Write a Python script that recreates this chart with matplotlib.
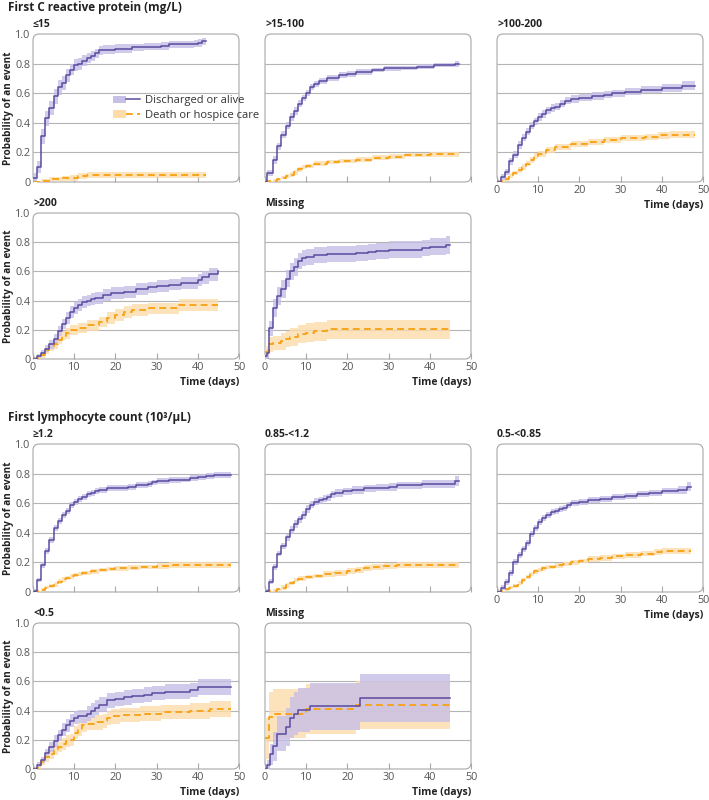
#!/usr/bin/env python3

import matplotlib
matplotlib.use("Agg")
import matplotlib.pyplot as plt
import numpy as np
from matplotlib.patches import FancyBboxPatch, Patch
from matplotlib.lines import Line2D
from matplotlib.legend_handler import HandlerTuple

plt.rcParams['font.family'] = ['Open Sans', 'DejaVu Sans']

# each series: (day, cumulative probability, half width of 95% CI)
# --- first C reactive protein ---
crp_le15_dis = [(0, 0.03, 0.03), (1, 0.10, 0.04), (2, 0.31, 0.05), (3, 0.43, 0.05), (4, 0.50, 0.05),
                (5, 0.58, 0.05), (6, 0.64, 0.05), (7, 0.67, 0.045), (8, 0.72, 0.045), (9, 0.76, 0.04),
                (10, 0.79, 0.04), (11, 0.80, 0.04), (12, 0.82, 0.035), (13, 0.84, 0.035), (14, 0.85, 0.035),
                (15, 0.87, 0.03), (16, 0.89, 0.03), (17, 0.895, 0.03), (20, 0.90, 0.03), (24, 0.91, 0.025),
                (27, 0.915, 0.025), (31, 0.92, 0.025), (33, 0.93, 0.025), (39, 0.935, 0.025),
                (40, 0.94, 0.025), (41, 0.95, 0.025), (42, 0.95, 0.025)]
crp_le15_die = [(0, 0.0, 0.005), (2, 0.01, 0.01), (4, 0.02, 0.015), (7, 0.025, 0.015), (9, 0.03, 0.02),
                (11, 0.04, 0.02), (13, 0.045, 0.02), (42, 0.045, 0.02)]

crp_15_100_dis = [(0, 0.0, 0.005), (0.6, 0.06, 0.02), (2, 0.15, 0.025), (3, 0.24, 0.025), (4, 0.32, 0.025),
                  (5, 0.38, 0.025), (6, 0.44, 0.025), (7, 0.48, 0.025), (8, 0.53, 0.025), (9, 0.57, 0.02),
                  (10, 0.60, 0.02), (11, 0.64, 0.02), (12, 0.66, 0.02), (13, 0.68, 0.02), (15, 0.70, 0.02),
                  (18, 0.72, 0.02), (20, 0.73, 0.02), (22, 0.745, 0.02), (26, 0.755, 0.015),
                  (29, 0.767, 0.015), (33, 0.77, 0.015), (37, 0.78, 0.015), (41, 0.79, 0.015),
                  (46, 0.796, 0.02), (47, 0.796, 0.02)]
crp_15_100_die = [(0, 0.0, 0.005), (1, 0.005, 0.005), (2, 0.01, 0.01), (3, 0.02, 0.01), (4, 0.03, 0.01),
                  (5, 0.04, 0.015), (6, 0.05, 0.015), (7, 0.065, 0.015), (8, 0.085, 0.015),
                  (9, 0.10, 0.015), (10, 0.11, 0.015), (12, 0.125, 0.015), (15, 0.135, 0.015),
                  (18, 0.143, 0.015), (22, 0.152, 0.015), (26, 0.165, 0.015), (30, 0.172, 0.015),
                  (34, 0.181, 0.015), (40, 0.186, 0.015), (47, 0.186, 0.015)]

crp_100_200_dis = [(0, 0.0, 0.01), (1, 0.034, 0.02), (2, 0.07, 0.02), (3, 0.14, 0.025), (4, 0.185, 0.025),
                   (5, 0.25, 0.025), (6, 0.30, 0.025), (7, 0.34, 0.025), (8, 0.38, 0.025), (9, 0.41, 0.025),
                   (10, 0.44, 0.025), (11, 0.46, 0.025), (12, 0.485, 0.025), (13, 0.50, 0.025),
                   (14, 0.51, 0.025), (15.4, 0.53, 0.025), (16.6, 0.55, 0.025), (18, 0.56, 0.025),
                   (20, 0.57, 0.025), (23, 0.58, 0.025), (26, 0.59, 0.025), (28, 0.60, 0.025),
                   (31, 0.61, 0.025), (35, 0.625, 0.025), (40, 0.635, 0.025), (45, 0.65, 0.03),
                   (48, 0.65, 0.03)]
crp_100_200_die = [(0, 0.0, 0.005), (1, 0.005, 0.01), (2, 0.02, 0.015), (3, 0.045, 0.015), (4, 0.06, 0.015),
                   (5, 0.08, 0.02), (6, 0.10, 0.02), (7, 0.125, 0.02), (8, 0.15, 0.02), (9, 0.175, 0.02),
                   (10, 0.19, 0.02), (12, 0.215, 0.02), (14, 0.235, 0.02), (18, 0.255, 0.02),
                   (22, 0.27, 0.02), (26, 0.285, 0.02), (30, 0.30, 0.02), (36, 0.305, 0.02),
                   (39, 0.315, 0.025), (42, 0.32, 0.025), (48, 0.32, 0.025)]

crp_gt200_dis = [(0, 0.0, 0.01), (1, 0.02, 0.015), (2, 0.04, 0.02), (3, 0.07, 0.025), (4, 0.10, 0.03),
                 (5, 0.14, 0.03), (6, 0.19, 0.035), (7, 0.24, 0.035), (8, 0.28, 0.04), (9, 0.32, 0.04),
                 (10, 0.35, 0.04), (11, 0.37, 0.04), (12, 0.39, 0.04), (13, 0.40, 0.04), (14, 0.41, 0.04),
                 (15, 0.42, 0.04), (17, 0.44, 0.04), (19, 0.45, 0.04), (22, 0.46, 0.04), (25, 0.48, 0.04),
                 (28, 0.49, 0.04), (30, 0.50, 0.04), (33, 0.51, 0.04), (36, 0.52, 0.04), (40, 0.54, 0.04),
                 (41, 0.56, 0.045), (42.7, 0.58, 0.045), (44.9, 0.60, 0.045), (45, 0.60, 0.045)]
crp_gt200_die = [(0, 0.0, 0.005), (1, 0.01, 0.01), (2, 0.03, 0.02), (3, 0.06, 0.025), (4, 0.08, 0.025),
                 (5, 0.10, 0.03), (6, 0.13, 0.03), (7, 0.16, 0.03), (8, 0.175, 0.035), (9, 0.20, 0.035),
                 (11, 0.21, 0.035), (13, 0.23, 0.035), (16, 0.255, 0.035), (18, 0.28, 0.04),
                 (20, 0.30, 0.04), (22, 0.32, 0.04), (24, 0.335, 0.04), (28, 0.346, 0.04),
                 (35.4, 0.37, 0.04), (45, 0.37, 0.04)]

crp_miss_dis = [(0, 0.02, 0.02), (0.5, 0.04, 0.03), (1, 0.21, 0.05), (2, 0.35, 0.06), (3, 0.43, 0.06),
                (4, 0.48, 0.06), (5, 0.55, 0.06), (6, 0.60, 0.06), (7, 0.63, 0.06), (8, 0.67, 0.055),
                (9, 0.69, 0.055), (10, 0.70, 0.055), (12, 0.71, 0.055), (15, 0.72, 0.055),
                (22, 0.725, 0.055), (25, 0.73, 0.055), (27, 0.74, 0.055), (30, 0.75, 0.055),
                (38, 0.76, 0.055), (40, 0.77, 0.06), (44, 0.78, 0.06), (45, 0.78, 0.06)]
crp_miss_die = [(0, 0.05, 0.04), (1, 0.10, 0.05), (2, 0.11, 0.05), (4, 0.12, 0.055), (5, 0.14, 0.055),
                (6, 0.15, 0.06), (8, 0.17, 0.06), (10, 0.18, 0.065), (12, 0.19, 0.065), (15, 0.205, 0.065),
                (45, 0.205, 0.065)]

# --- first lymphocyte count ---
lym_ge12_dis = [(0, 0.0, 0.005), (0.5, 0.01, 0.01), (1, 0.08, 0.015), (2, 0.18, 0.02), (3, 0.28, 0.02),
                (4, 0.35, 0.02), (5, 0.43, 0.02), (6, 0.48, 0.02), (7, 0.52, 0.02), (8, 0.55, 0.02),
                (9, 0.59, 0.02), (10, 0.61, 0.02), (11, 0.63, 0.02), (12, 0.645, 0.02), (13, 0.66, 0.02),
                (14, 0.67, 0.02), (15, 0.68, 0.02), (16, 0.69, 0.02), (18, 0.70, 0.02), (21, 0.705, 0.02),
                (23, 0.71, 0.02), (25, 0.72, 0.02), (28, 0.73, 0.02), (29, 0.74, 0.02), (30, 0.75, 0.02),
                (33, 0.755, 0.02), (36, 0.76, 0.02), (38, 0.77, 0.02), (40, 0.78, 0.02),
                (42, 0.785, 0.02), (44, 0.79, 0.02), (48, 0.79, 0.02)]
lym_ge12_die = [(0, 0.0, 0.005), (1, 0.005, 0.005), (2, 0.015, 0.01), (3, 0.03, 0.01), (4, 0.04, 0.015),
                (5, 0.05, 0.015), (6, 0.07, 0.015), (7, 0.085, 0.015), (8, 0.095, 0.015),
                (9, 0.105, 0.015), (10, 0.115, 0.015), (11, 0.12, 0.015), (12, 0.13, 0.015),
                (14, 0.14, 0.015), (16, 0.15, 0.015), (18, 0.155, 0.015), (20, 0.16, 0.015),
                (23, 0.165, 0.015), (26, 0.17, 0.015), (30, 0.175, 0.02), (33, 0.18, 0.02),
                (36, 0.185, 0.02), (48, 0.185, 0.02)]

lym_085_12_dis = [(0, 0.0, 0.005), (0.5, 0.01, 0.01), (1, 0.07, 0.015), (2, 0.17, 0.02), (3, 0.26, 0.02),
                  (4, 0.31, 0.02), (5, 0.37, 0.025), (6, 0.42, 0.025), (7, 0.46, 0.025), (8, 0.49, 0.025),
                  (9, 0.52, 0.025), (10, 0.56, 0.025), (11, 0.59, 0.025), (12, 0.61, 0.025),
                  (13, 0.62, 0.025), (14, 0.63, 0.025), (15, 0.64, 0.025), (16, 0.66, 0.025),
                  (17, 0.67, 0.025), (19, 0.68, 0.025), (21, 0.69, 0.025), (24, 0.70, 0.025),
                  (27, 0.705, 0.025), (30, 0.71, 0.025), (32, 0.72, 0.025), (38, 0.73, 0.025),
                  (46, 0.75, 0.035), (47, 0.75, 0.035)]
lym_085_12_die = [(0, 0.0, 0.005), (1, 0.005, 0.005), (2, 0.01, 0.01), (3, 0.02, 0.01), (4, 0.03, 0.015),
                  (5, 0.045, 0.015), (6, 0.06, 0.015), (7, 0.08, 0.015), (8, 0.09, 0.015),
                  (10, 0.10, 0.015), (12, 0.11, 0.015), (14, 0.12, 0.02), (17, 0.13, 0.02),
                  (20, 0.14, 0.02), (22, 0.15, 0.02), (24, 0.16, 0.02), (26, 0.17, 0.02),
                  (29, 0.175, 0.02), (32, 0.18, 0.02), (47, 0.18, 0.02)]

lym_05_085_dis = [(0, 0.0, 0.005), (1, 0.03, 0.015), (2, 0.07, 0.02), (3, 0.13, 0.02), (4, 0.20, 0.02),
                  (5, 0.25, 0.02), (6, 0.29, 0.02), (7, 0.33, 0.02), (8, 0.39, 0.02), (9, 0.43, 0.02),
                  (10, 0.47, 0.02), (11, 0.50, 0.02), (12, 0.52, 0.02), (13, 0.54, 0.02), (14, 0.55, 0.02),
                  (15, 0.56, 0.02), (16, 0.57, 0.02), (17, 0.59, 0.02), (18, 0.60, 0.02), (20, 0.61, 0.02),
                  (22, 0.62, 0.02), (25, 0.63, 0.02), (28, 0.64, 0.02), (31, 0.65, 0.02),
                  (34, 0.66, 0.02), (37, 0.67, 0.02), (40, 0.68, 0.02), (44, 0.69, 0.025),
                  (46, 0.71, 0.03), (47, 0.71, 0.03)]
lym_05_085_die = [(0, 0.0, 0.005), (1, 0.005, 0.005), (2, 0.02, 0.01), (3, 0.03, 0.01), (4, 0.04, 0.015),
                  (5, 0.06, 0.015), (6, 0.08, 0.015), (7, 0.10, 0.015), (8, 0.12, 0.015), (9, 0.14, 0.015),
                  (10, 0.15, 0.015), (11, 0.16, 0.015), (12, 0.17, 0.015), (14, 0.18, 0.015),
                  (16, 0.19, 0.015), (18, 0.20, 0.015), (20, 0.21, 0.015), (22, 0.22, 0.02),
                  (25, 0.23, 0.02), (28, 0.24, 0.02), (31, 0.25, 0.02), (35, 0.26, 0.02),
                  (38, 0.27, 0.02), (40, 0.28, 0.02), (47, 0.28, 0.02)]

lym_lt05_dis = [(0, 0.0, 0.005), (1, 0.03, 0.015), (2, 0.06, 0.02), (3, 0.11, 0.03), (4, 0.15, 0.035),
                (5, 0.19, 0.04), (6, 0.23, 0.04), (7, 0.27, 0.045), (8, 0.30, 0.045), (9, 0.33, 0.045),
                (10, 0.35, 0.045), (11, 0.36, 0.045), (13, 0.38, 0.05), (14, 0.40, 0.05), (15, 0.42, 0.05),
                (16, 0.44, 0.05), (18, 0.47, 0.05), (20, 0.48, 0.05), (22, 0.49, 0.05), (24, 0.50, 0.05),
                (27, 0.51, 0.05), (29, 0.52, 0.05), (32, 0.53, 0.05), (38, 0.54, 0.05),
                (40, 0.56, 0.055), (48, 0.56, 0.055)]
lym_lt05_die = [(0, 0.0, 0.005), (1, 0.01, 0.01), (2, 0.05, 0.02), (3, 0.08, 0.03), (4, 0.10, 0.03),
                (5, 0.13, 0.035), (6, 0.15, 0.035), (7, 0.17, 0.04), (8, 0.19, 0.04), (9, 0.20, 0.04),
                (10, 0.25, 0.045), (11, 0.27, 0.045), (12, 0.30, 0.045), (13, 0.31, 0.045),
                (15, 0.32, 0.05), (17, 0.33, 0.05), (18, 0.35, 0.05), (19, 0.36, 0.05),
                (21, 0.37, 0.05), (26, 0.38, 0.05), (31, 0.39, 0.05), (38, 0.40, 0.055),
                (43, 0.41, 0.055), (48, 0.41, 0.055)]

lym_miss_dis = [(0, 0.0, 0.01), (0.5, 0.03, 0.03), (1.2, 0.10, 0.07), (2, 0.155, 0.1), (3, 0.24, 0.12),
                (5, 0.29, 0.13), (6, 0.35, 0.14), (7, 0.38, 0.15), (8, 0.405, 0.15), (11, 0.43, 0.16),
                (23, 0.486, 0.165), (45, 0.486, 0.165)]
lym_miss_die = [(0, 0.21, 0.14), (1, 0.355, 0.17), (2, 0.38, 0.17), (10, 0.41, 0.17), (22, 0.436, 0.165),
                (45, 0.436, 0.165)]

crp_titles = ['≤15', '>15-100', '>100-200', '>200', 'Missing']
crp_series = [(crp_le15_dis, crp_le15_die), (crp_15_100_dis, crp_15_100_die),
              (crp_100_200_dis, crp_100_200_die), (crp_gt200_dis, crp_gt200_die),
              (crp_miss_dis, crp_miss_die)]
lym_titles = ['≥1.2', '0.85-<1.2', '0.5-<0.85', '<0.5', 'Missing']
lym_series = [(lym_ge12_dis, lym_ge12_die), (lym_085_12_dis, lym_085_12_die),
              (lym_05_085_dis, lym_05_085_die), (lym_lt05_dis, lym_lt05_die),
              (lym_miss_dis, lym_miss_die)]

PURPLE = '#5b4b9f'
PURPLE_FILL = '#c6bfe6'
ORANGE = '#f7a51e'
ORANGE_FILL = '#fddcaa'
GRID = '#b4b4b4'
TICK = '#555555'
FS = 7.5

W, H = 709, 800
col_left = [33, 265, 497]
ax_w = 206
row_box = [(34, 182), (213, 359), (444, 592), (623, 769)]


def draw_series(ax, data, color, fill, dashed):
    t = np.array([d[0] for d in data])
    p = np.array([d[1] for d in data])
    w = np.array([d[2] for d in data])
    ax.fill_between(t, np.clip(p - w, 0, 1), np.clip(p + w, 0, 1), step='post',
                    color=fill, alpha=0.8, lw=0, zorder=2)
    if dashed:
        ax.step(t, p, where='post', color=color, lw=1.4, ls=(0, (3.5, 2.2)), zorder=4)
    else:
        ax.step(t, p, where='post', color=color, lw=1.1, zorder=4)


def make_panel(fig, row, col, title, dis, die, xlabels, ylabels):
    top, bot = row_box[row]
    rect = [col_left[col] / W, 1 - bot / H, ax_w / W, (bot - top) / H]
    ax = fig.add_axes(rect)
    ax.set_xlim(0, 50)
    ax.set_ylim(0, 1)
    ax.patch.set_visible(False)
    for s in ax.spines.values():
        s.set_visible(False)

    box = FancyBboxPatch((0, 0), 1, 1, boxstyle='round,pad=0,rounding_size=0.03',
                         mutation_aspect=ax_w / (bot - top), transform=ax.transAxes,
                         facecolor='white', edgecolor='#a8a8a8', lw=0.8, zorder=0,
                         clip_on=False)
    ax.add_patch(box)
    for g in [0.2, 0.4, 0.6, 0.8]:
        ax.axhline(g, color=GRID, lw=0.8, zorder=1)

    draw_series(ax, die, ORANGE, ORANGE_FILL, True)
    draw_series(ax, dis, PURPLE, PURPLE_FILL, False)

    ax.set_xticks([0, 10, 20, 30, 40, 50])
    ax.set_yticks([0, 0.2, 0.4, 0.6, 0.8, 1.0])
    ax.tick_params(axis='x', direction='in', length=4, width=0.8, color='#a8a8a8',
                   labelsize=FS + 0.3, labelcolor=TICK, pad=2)
    ax.tick_params(axis='y', length=0, labelsize=FS + 0.3, labelcolor=TICK, pad=2)
    if xlabels:
        ax.set_xticklabels(['0', '10', '20', '30', '40', '50'])
        ax.set_xlabel('Time (days)', fontsize=FS, fontweight='bold', color='#222222',
                      loc='right', labelpad=3)
    else:
        ax.set_xticklabels([])
    if ylabels:
        ax.set_yticklabels(['0', '0.2', '0.4', '0.6', '0.8', '1.0'])
        ax.set_ylabel('Probability of an event', fontsize=FS - 0.3, fontweight='bold',
                      color='#222222', labelpad=1)
    else:
        ax.set_yticklabels([])
    ax.text(0, 1.03, title, transform=ax.transAxes, fontsize=FS, fontweight='bold',
            color='#222222', ha='left', va='bottom')
    return ax


fig = plt.figure(figsize=(W / 100, H / 100), dpi=100)

positions = [(0, 0), (0, 1), (0, 2), (1, 0), (1, 1)]
xlab = [False, False, True, True, True]
axes = []
for k, (r, c) in enumerate(positions):
    dis, die = crp_series[k]
    axes.append(make_panel(fig, r, c, crp_titles[k], dis, die, xlab[k], c == 0))
for k, (r, c) in enumerate(positions):
    dis, die = lym_series[k]
    make_panel(fig, r + 2, c, lym_titles[k], dis, die, xlab[k], c == 0)

fig.text(8 / W, 1 - 8 / H, 'First C reactive protein (mg/L)', fontsize=8.5, fontweight='bold',
         color='#222222', ha='left', va='center')
fig.text(8 / W, 1 - 418 / H, 'First lymphocyte count (10³/μL)', fontsize=8.5, fontweight='bold',
         color='#222222', ha='left', va='center')

# legend in the first panel: line drawn over its CI band
h_dis = (Patch(facecolor=PURPLE_FILL, edgecolor='none'), Line2D([], [], color=PURPLE, lw=1.1))
h_die = (Patch(facecolor=ORANGE_FILL, edgecolor='none'),
         Line2D([], [], color=ORANGE, lw=1.4, ls=(0, (3.5, 2.2))))
leg = axes[0].legend([h_dis, h_die], ['Discharged or alive', 'Death or hospice care'],
                     handler_map={tuple: HandlerTuple(ndivide=None, pad=0)},
                     loc='center left', bbox_to_anchor=(0.34, 0.5), frameon=False,
                     fontsize=8, handlelength=2.4, handleheight=0.7, labelspacing=0.3,
                     handletextpad=0.5)
for txt in leg.get_texts():
    txt.set_color('#333333')

fig.savefig('out.png', dpi=100)
